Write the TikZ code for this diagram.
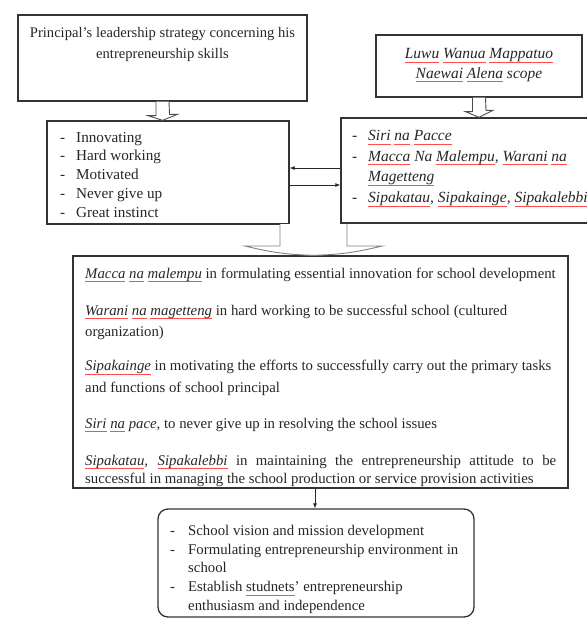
\documentclass[tikz,border=0pt]{standalone}
\usepackage{fontspec}
\setmainfont{Liberation Serif}
\usetikzlibrary{arrows.meta}
% spell-check mark under the Buginese words
\newcommand{\bug}[1]{\setbox0\hbox{#1}\rlap{\color{red!70}\raisebox{-3.5pt}{\rule{\wd0}{0.45pt}}}\box0\relax}
\newcommand{\dash}{\makebox[16pt][l]{-}}

\begin{document}
\begin{tikzpicture}[x=1pt,y=-1pt,
  frame/.style={draw=black!80,line width=1.3pt,inner sep=0pt},
  words/.style={inner sep=0pt,text=black!85,align=left,font=\fontsize{15.2}{18.7}\selectfont},
  blockarrow/.style={draw=black!70,line width=0.9pt,fill=white},
  link/.style={-{Latex[length=5pt,width=4pt]},line width=0.8pt,draw=black!85}]
\useasboundingbox (0,0) rectangle (587,622);
% boxes
\node[frame,minimum width=289pt,minimum height=86pt] (lead) at (162.5,58) {};
\node[frame,minimum width=206pt,minimum height=62pt] (scope) at (479,66) {};
\node[frame,minimum width=242pt,minimum height=103pt] (skills) at (168,172.5) {};
\node[frame,minimum width=251pt,minimum height=105pt] (values) at (466.5,170.5) {};
\node[frame,minimum width=495pt,minimum height=232pt] (roles) at (320.5,372) {};
\node[frame,rounded corners=10pt,minimum width=316pt,minimum height=108pt] (tasks) at (316,563) {};
% texts
\node[words,align=center,anchor=north,font=\fontsize{14.6}{21}\selectfont] (leadtext) at (162.5,27)
  {Principal’s leadership strategy concerning his\\entrepreneurship skills};
\node[words,align=center,font=\fontsize{15.5}{19.5}\itshape] (scopetext) at (479,65)
  {\bug{Luwu} \bug{Wanua} \bug{Mappatuo}\\\bug{Naewai} \bug{Alena} scope};
\node[words,anchor=north west] (skillstext) at (60,132)
  {\dash Innovating\\\dash Hard working\\\dash Motivated\\\dash Never give up\\\dash Great instinct};
\node[words,anchor=north west,font=\fontsize{15.5}{20.7}\selectfont] (valuestext) at (352,130)
  {\dash\textit{\bug{Siri} \bug{na} \bug{Pacce}}\\
   \dash\textit{\bug{Macca} Na \bug{Malempu}, \bug{Warani} \bug{na}}\\
   \hspace*{16pt}\textit{\bug{Magetteng}}\\
   \dash\textit{\bug{Sipakatau}, \bug{Sipakainge}, \bug{Sipakalebbi}}};
\node[words,anchor=north west,font=\fontsize{14.8}{21.5}\selectfont] (rolestext) at (85,267.5)
  {\textit{\bug{Macca} \bug{na} \bug{malempu}} in formulating essential innovation for school development\\[15.5pt]
   \textit{\bug{Warani} \bug{na} \bug{magetteng}} in hard working to be successful school (cultured\\
   organization)\\[12.5pt]
   \textit{\bug{Sipakainge}} in motivating the efforts to successfully carry out the primary tasks\\
   and functions of school principal\\[14.5pt]
   \textit{\bug{Siri} \bug{na} pace}, to never give up in resolving the school issues\\[15.5pt]
   \makebox[471pt][s]{\textit{\bug{Sipakatau},} \textit{\bug{Sipakalebbi}} in maintaining the entrepreneurship attitude to be}\\[-3.5pt]
   successful in managing the school production or service provision activities};
\node[words,anchor=north west,font=\fontsize{14.8}{18.7}\selectfont] (taskstext) at (170,525)
  {\makebox[18pt][l]{-}School vision and mission development\\
   \makebox[18pt][l]{-}Formulating entrepreneurship environment in\\
   \hspace*{18pt}school\\
   \makebox[18pt][l]{-}Establish \bug{studnets}’ entrepreneurship\\
   \hspace*{18pt}enthusiasm and independence};
% block arrows
\draw[blockarrow] ([xshift=-6.5pt]lead.south) -- ++(0,14) -- ++(-8,0) -- (lead.south |- skills.north)
  -- ++(15,-6) -- ++(-8,0) -- ([xshift=6.5pt]lead.south);
\draw[blockarrow] ([xshift=-6.5pt]scope.south) -- ++(0,14) -- ++(-7,0) -- (scope.south |- values.north)
  -- ++(14,-7) -- ++(-7,0) -- ([xshift=6.5pt]scope.south);
\coordinate (tip) at (roles.north -| 313.5,0);
\draw[blockarrow,draw=black!50] (280,224) -- (280,246) -- (245,246) to[bend right=6] (tip)
  to[bend right=6] (382,246) -- (347,246) -- (347,224);
% thin arrows
\draw[link] (values.west |- 0,168) -- (skills.east |- 0,168);
\draw[link] (skills.east |- 0,185) -- (values.west |- 0,185);
\draw[link] (roles.south -| 315,0) -- (tasks.north -| 315,0);
\end{tikzpicture}
\end{document}
